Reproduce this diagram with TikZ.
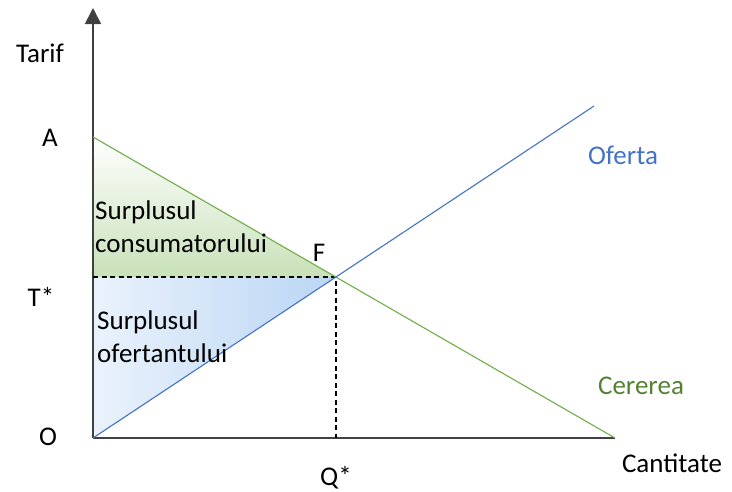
\documentclass[tikz,border=0pt]{standalone}
\usepackage{fontspec}
\setmainfont{Carlito}
\usetikzlibrary{arrows.meta}

\definecolor{ofertablue}{RGB}{68,114,196}
\definecolor{cererelinegreen}{RGB}{112,173,71}
\definecolor{cereretextgreen}{RGB}{84,130,53}
\definecolor{axisgray}{RGB}{64,64,64}

\begin{document}
\begin{tikzpicture}[x=1pt,y=-1pt]

% --- Global TikZ Styles ---
\tikzset{
    axisline/.style={
        draw=axisgray,
        line width=1.8pt
    },
    demandline/.style={
        draw=cererelinegreen,
        line width=1.1pt
    },
    supplyline/.style={
        draw=ofertablue,
        line width=1.1pt
    },
    guideline/.style={
        draw=black,
        line width=1.4pt,
        dash pattern=on 5pt off 3.5pt
    },
    label/.style={
        font=\fontsize{27}{33}\selectfont,
        inner sep=0pt
    },
    arealabel/.style={
        label,
        anchor=west,
        align=left
    }
}

\useasboundingbox (0,0) rectangle (732,491);

% ==================================================
% --- Key points ---
% ==================================================

\coordinate (O)    at (93,438);
\coordinate (ytip) at (93,8);
\coordinate (xend) at (615,438);
\coordinate (Apt)  at (93,137);
\coordinate (Tpt)  at (93,277);
\coordinate (Fpt)  at (336,277);
\coordinate (Qpt)  at (336,438);
\coordinate (send) at (594,106);

% ==================================================
% --- Surplus areas ---
% ==================================================

% Consumer surplus
\shade[top color=white, bottom color={rgb,255:red,200;green,225;blue,184}]
    (Apt) -- (Tpt) -- (Fpt) -- cycle;

% Producer surplus
\shade[left color={rgb,255:red,234;green,242;blue,252},
       right color={rgb,255:red,186;green,214;blue,244}]
    (Tpt) -- (Fpt) -- (O) -- cycle;

% ==================================================
% --- Axes ---
% ==================================================

\draw[axisline, -{Triangle[width=16pt,length=16pt]}] (O) -- (ytip);
\draw[axisline] (O) -- (xend);

% ==================================================
% --- Curves and guides ---
% ==================================================

\draw[guideline] (Tpt) -- (Fpt) -- (Qpt);
\draw[demandline] (Apt) -- (xend);
\draw[supplyline] (O) -- (send);

% ==================================================
% --- Labels ---
% ==================================================

\node[label] (tarif) at (40,53)  {Tarif};
\node[label] (A)     at (50,138) {A};
\node[label] (T)     at (41,297) {T*};
\node[label] (Olab)  at (48,437) {O};
\node[label] (Q)     at (336,478) {Q*};
\node[label] (cant)  at (672,463) {Cantitate};
\node[label] (F)     at (319,253) {F};

\node[label, text=ofertablue]      (oferta)  at (623,155) {Oferta};
\node[label, text=cereretextgreen] (cererea) at (641,386) {Cererea};

\node[arealabel] (cons) at (95,227)
    {Surplusul\\consumatorului};
\node[arealabel] (ofer) at (97,337)
    {Surplusul\\ofertantului};

\end{tikzpicture}
\end{document}
